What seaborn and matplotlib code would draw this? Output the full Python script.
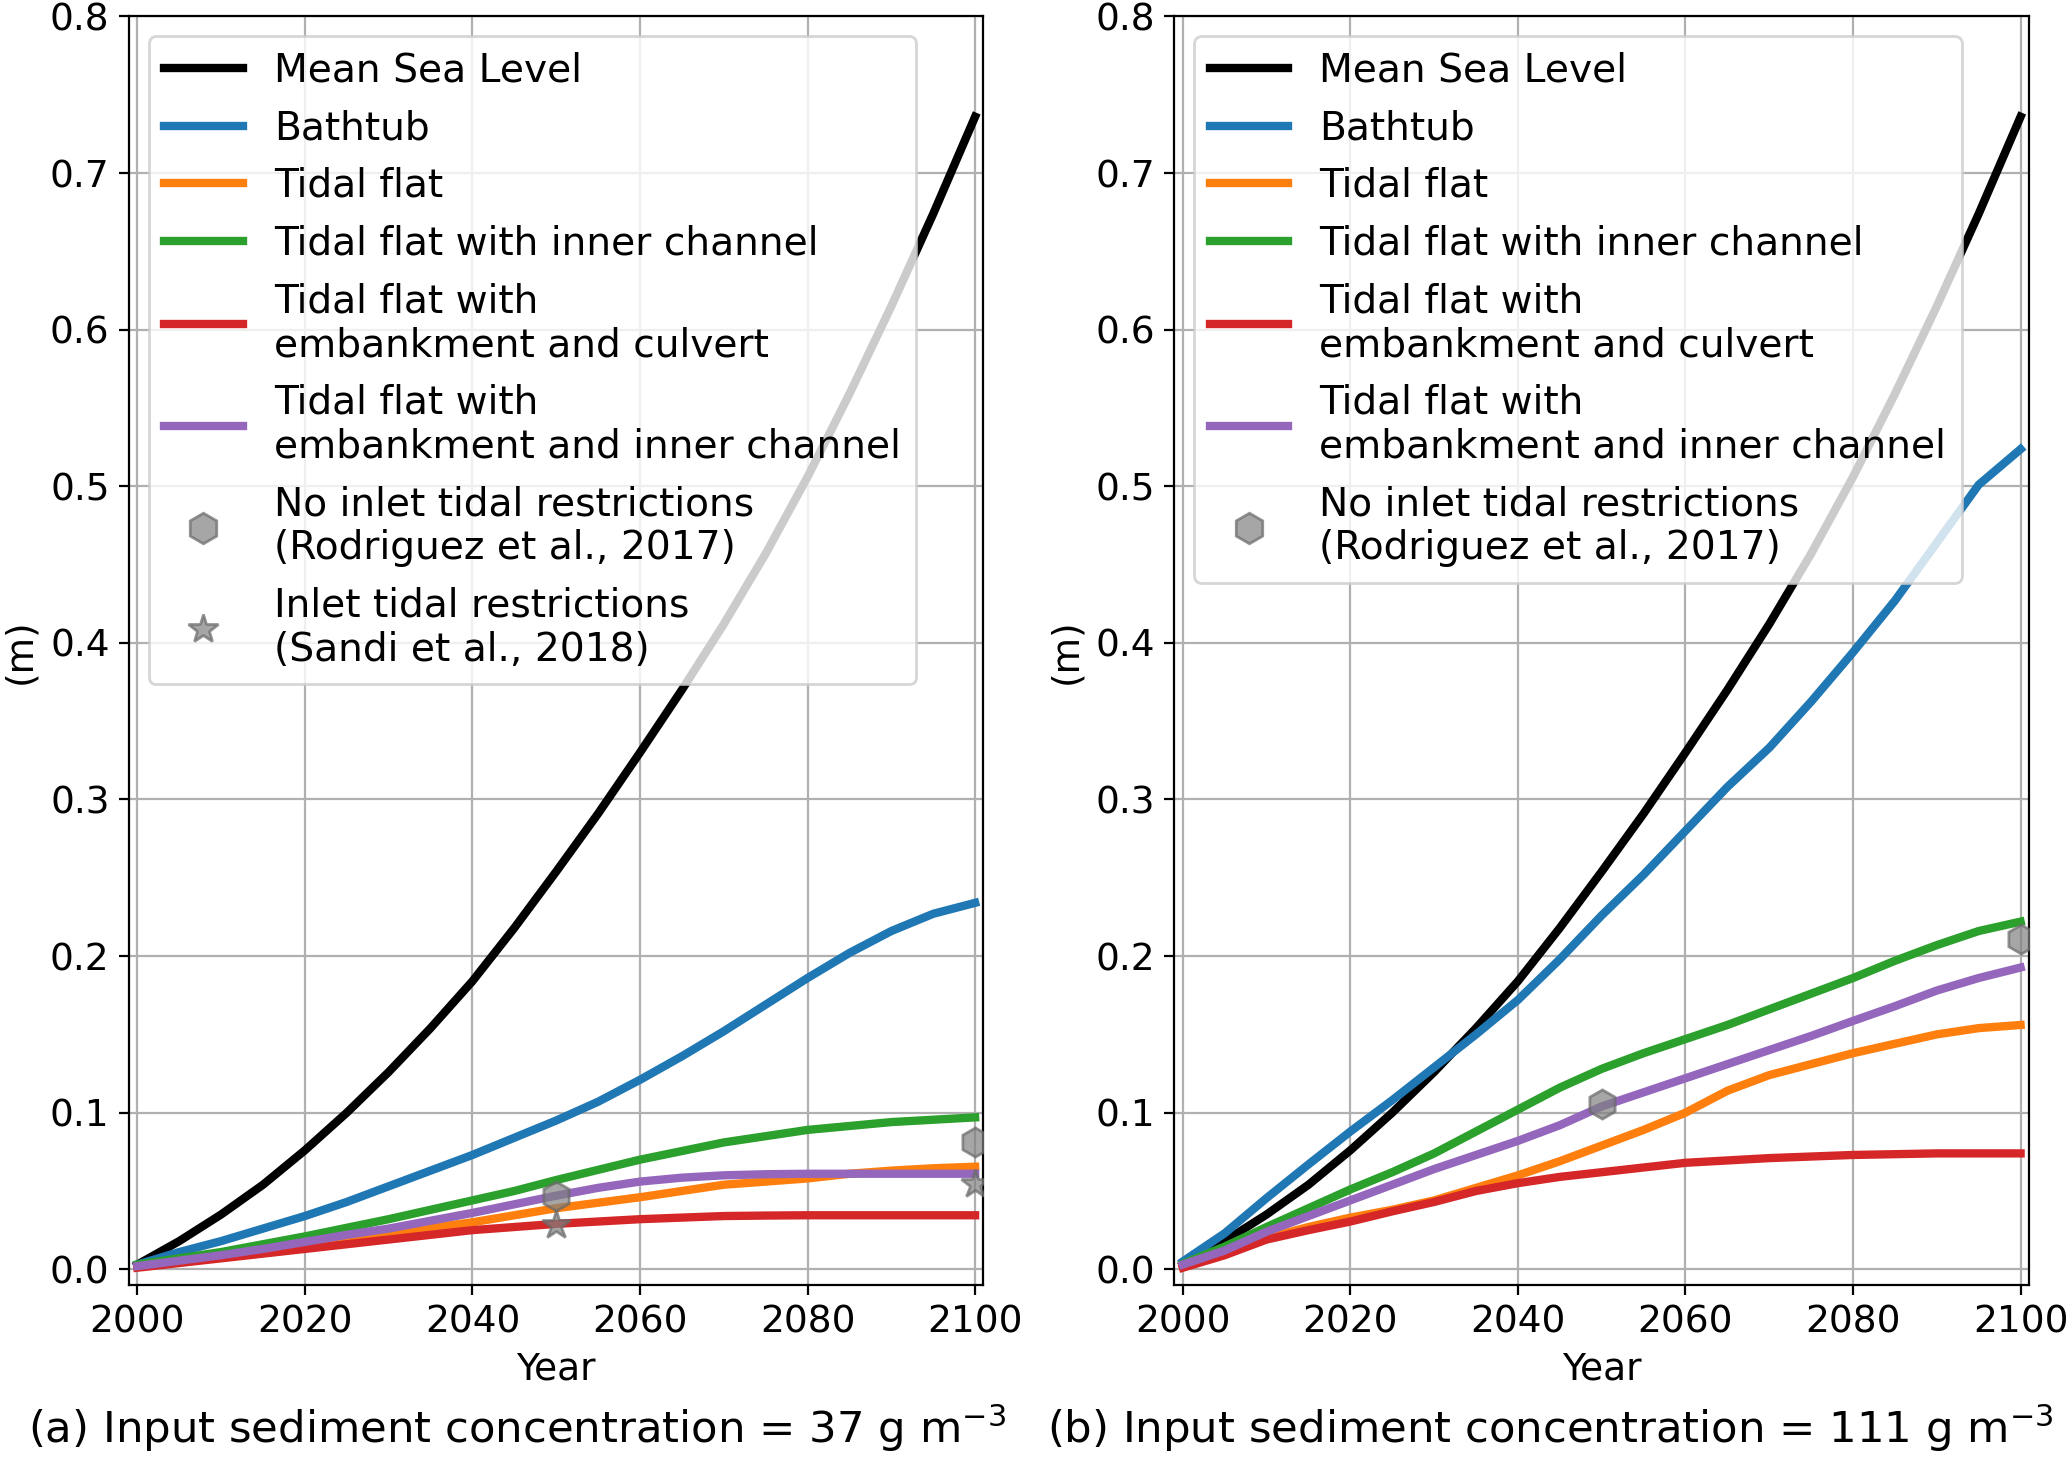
import matplotlib
matplotlib.use('Agg')

import matplotlib.pyplot as plt
from matplotlib.lines import Line2D
import seaborn as sns
import pandas as pd


years = list(range(2000, 2101, 5))

msl = [0.003, 0.018, 0.035, 0.054, 0.076, 0.100, 0.126, 0.154, 0.184, 0.218,
       0.254, 0.291, 0.330, 0.370, 0.412, 0.457, 0.506, 0.559, 0.615, 0.674,
       0.736]

# panel (a): 37 g m-3
bathtub_a = [0.003, 0.011, 0.018, 0.026, 0.034, 0.043, 0.053, 0.063, 0.073,
             0.084, 0.095, 0.107, 0.121, 0.136, 0.152, 0.169, 0.186, 0.202,
             0.216, 0.227, 0.234]
flat_a = [0.002, 0.005, 0.008, 0.012, 0.016, 0.0195, 0.023, 0.0265, 0.030,
          0.0345, 0.039, 0.0425, 0.046, 0.050, 0.054, 0.056, 0.058, 0.061,
          0.063, 0.0645, 0.0655]
channel_a = [0.003, 0.007, 0.011, 0.016, 0.021, 0.0265, 0.032, 0.038, 0.044,
             0.050, 0.057, 0.0635, 0.070, 0.0755, 0.081, 0.085, 0.089, 0.0915,
             0.094, 0.0955, 0.097]
culvert_a = [0.001, 0.004, 0.007, 0.010, 0.013, 0.016, 0.019, 0.022, 0.025,
             0.027, 0.029, 0.0305, 0.032, 0.033, 0.034, 0.0343, 0.0345, 0.0345,
             0.0345, 0.0345, 0.0345]
emb_channel_a = [0.002, 0.0055, 0.009, 0.013, 0.0175, 0.022, 0.026, 0.031,
                 0.036, 0.0415, 0.047, 0.052, 0.056, 0.0585, 0.060, 0.0607,
                 0.061, 0.061, 0.061, 0.061, 0.061]

# panel (b): 111 g m-3
bathtub_b = [0.005, 0.023, 0.0455, 0.067, 0.088, 0.108, 0.129, 0.150, 0.172,
             0.198, 0.226, 0.252, 0.280, 0.308, 0.333, 0.3625, 0.394, 0.427,
             0.464, 0.501, 0.5237]
flat_b = [0.002, 0.010, 0.020, 0.027, 0.033, 0.038, 0.044, 0.052, 0.060,
          0.069, 0.079, 0.089, 0.100, 0.114, 0.124, 0.131, 0.138, 0.144,
          0.150, 0.154, 0.156]
channel_b = [0.0035, 0.0145, 0.027, 0.039, 0.051, 0.062, 0.074, 0.088, 0.102,
             0.116, 0.128, 0.138, 0.147, 0.156, 0.166, 0.176, 0.186, 0.197,
             0.207, 0.216, 0.222]
culvert_b = [0.001, 0.009, 0.019, 0.025, 0.0305, 0.037, 0.043, 0.050, 0.055,
             0.059, 0.062, 0.065, 0.068, 0.0695, 0.071, 0.072, 0.073, 0.0735,
             0.074, 0.074, 0.074]
emb_channel_b = [0.003, 0.012, 0.024, 0.034, 0.044, 0.054, 0.064, 0.073,
                 0.082, 0.092, 0.104, 0.113, 0.122, 0.131, 0.140, 0.149,
                 0.1586, 0.168, 0.178, 0.186, 0.1927]

obs_years = [2050, 2100]
rodriguez_a = [0.047, 0.081]
sandi_a = [0.0285, 0.0543]
rodriguez_b = [0.1054, 0.2107]

scenarios = [
    "Mean Sea Level",
    "Bathtub",
    "Tidal flat",
    "Tidal flat with inner channel",
    "Tidal flat with\nembankment and culvert",
    "Tidal flat with\nembankment and inner channel",
]
colors = ["black", "#1f77b4", "#ff7f0e", "#2ca02c", "#d62728", "#9467bd"]

rodriguez_label = "No inlet tidal restrictions\n(Rodriguez et al., 2017)"
sandi_label = "Inlet tidal restrictions\n(Sandi et al., 2018)"

captions = [
    "(a) Input sediment concentration = 37 g m$^{-3}$",
    "(b) Input sediment concentration = 111 g m$^{-3}$",
]


def make_frame(series):
    rows = []
    for name, vals in zip(scenarios, series):
        for y, v in zip(years, vals):
            rows.append({"Year": y, "Level": v, "Scenario": name})
    return pd.DataFrame(rows)


panel_a = make_frame([msl, bathtub_a, flat_a, channel_a, culvert_a,
                      emb_channel_a])
panel_b = make_frame([msl, bathtub_b, flat_b, channel_b, culvert_b,
                      emb_channel_b])

hex_style = dict(marker="h", color="gray", alpha=0.7,
                 markeredgecolor="dimgray")
star_style = dict(marker="*", color="gray", alpha=0.7,
                  markeredgecolor="dimgray")

fig, axes = plt.subplots(1, 2, figsize=(10.335, 7.295), dpi=200)
plt.subplots_adjust(left=0.0624, right=0.9816, bottom=0.1193,
                    top=0.9887, wspace=0.2235)


def draw_panel(ax, df, markers):

    sns.lineplot(
        data=df,
        x="Year",
        y="Level",
        hue="Scenario",
        hue_order=scenarios,
        palette=colors,
        linewidth=3,
        errorbar=None,
        legend=False,
        ax=ax
    )

    handles = [Line2D([], [], color=c, lw=3) for c in colors]
    labels = list(scenarios)

    for vals, style, label in markers:
        ax.plot(obs_years, vals, ls="none", ms=10.5, zorder=3, **style)
        handles.append(Line2D([], [], ls="none", ms=11, **style))
        labels.append(label)

    ax.set_xlim(1999, 2101)
    ax.set_ylim(-0.01, 0.8)
    ax.set_xticks(range(2000, 2101, 20))
    ax.set_yticks([i / 10 for i in range(9)])
    ax.yaxis.set_major_formatter(plt.FormatStrFormatter("%.1f"))
    ax.tick_params(labelsize=13.5)
    ax.grid(True, color="#b0b0b0", linewidth=0.8)

    ax.set_xlabel("Year", fontsize=13.5)
    ax.set_ylabel("(m)", fontsize=13.5)

    ax.legend(handles, labels, loc="upper left", fontsize=14.1)


draw_panel(axes[0], panel_a, [(rodriguez_a, hex_style, rodriguez_label),
                              (sandi_a, star_style, sandi_label)])
draw_panel(axes[1], panel_b, [(rodriguez_b, hex_style, rodriguez_label)])

fig.text(0.25, 0.021, captions[0], ha="center", va="center", fontsize=15.6)
fig.text(0.75, 0.021, captions[1], ha="center", va="center", fontsize=15.6)

plt.savefig("out.png", dpi=200)
plt.close()
